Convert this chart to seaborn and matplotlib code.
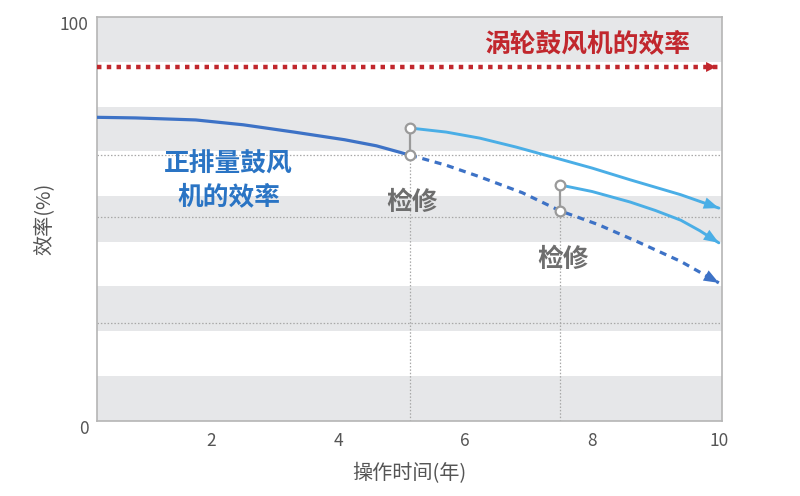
import matplotlib
matplotlib.use("Agg")
import matplotlib.pyplot as plt
import matplotlib.transforms as mtransforms
import seaborn as sns

# * --- Data ---
y_ticks = [0, 100]
x_ticks = [2, 4, 6, 8, 10]

# gray background bands (lower, upper)
band_low = [0.0, 22.2, 44.4, 66.7, 88.9]
band_high = [11.1, 33.3, 55.6, 77.8, 100.0]

# turbo blower efficiency (red dotted)
turbo_x = [0.19, 10.0]
turbo_y = [87.6, 87.6]

# positive displacement blower efficiency (solid, before first maintenance)
pd_x = [0.0, 0.8, 1.75, 2.5, 3.3, 4.1, 4.6, 5.13]
pd_y = [75.2, 75.0, 74.5, 73.3, 71.5, 69.6, 68.1, 65.8]

# without maintenance (dashed)
decay_x = [5.13, 5.7, 6.2, 6.9, 7.5, 8.1, 8.7, 9.4, 10.0]
decay_y = [65.8, 63.3, 60.6, 56.5, 52.0, 48.6, 44.5, 39.5, 34.2]

# after first maintenance
maint1_x = [5.13, 5.7, 6.23, 6.8, 7.38, 8.0, 8.6, 9.4, 10.0]
maint1_y = [72.5, 71.5, 70.0, 67.8, 65.3, 62.6, 59.7, 56.0, 52.7]

# after second maintenance
maint2_x = [7.5, 8.0, 8.6, 9.0, 9.4, 9.7, 10.0]
maint2_y = [58.4, 56.8, 54.2, 52.1, 49.7, 47.1, 44.1]

# reference grid lines
h_guides = [65.8, 50.5, 24.3]
v_guides = [5.13, 7.5]
v_guide_tops = [65.8, 52.0]

DARK_BLUE = "#3d72c6"
LIGHT_BLUE = "#4aaee6"
RED = "#c1272d"
GRAY_TXT = "#6e6e6e"

sns.set_theme(style="white")
plt.rcParams["font.family"] = ["Noto Sans CJK SC", "DejaVu Sans"]

fig = plt.figure(figsize=(8, 4.96), dpi=100)
ax = fig.add_axes([0.121, 0.151, 0.7815, 0.815])

for lo, hi in zip(band_low, band_high):
    ax.axhspan(lo, hi, color="#e6e7e9", lw=0, zorder=0)

for h in h_guides:
    ax.axhline(h, color="#a8a8a8", lw=0.9, ls=(0, (1.2, 1.5)), zorder=1)
for v, top in zip(v_guides, v_guide_tops):
    ax.plot([v, v], [0, top], color="#a8a8a8", lw=0.9, ls=(0, (1.2, 1.5)), zorder=1)

# turbo line
sns.lineplot(x=turbo_x, y=turbo_y, ax=ax, color=RED, lw=3.2, ls=(0, (1.0, 1.2)), zorder=3)
ax.annotate("", xy=(turbo_x[-1], turbo_y[-1]), xytext=(turbo_x[-1] - 0.15, turbo_y[-1]),
            arrowprops=dict(arrowstyle="-|>,head_length=0.6,head_width=0.3", color=RED, lw=0))

sns.lineplot(x=pd_x, y=pd_y, ax=ax, color=DARK_BLUE, lw=2.3, sort=False, zorder=3)
sns.lineplot(x=decay_x, y=decay_y, ax=ax, color=DARK_BLUE, lw=2.3, ls=(0, (2.2, 1.8)),
             sort=False, zorder=3)
sns.lineplot(x=maint1_x, y=maint1_y, ax=ax, color=LIGHT_BLUE, lw=2.1, sort=False, zorder=3)
sns.lineplot(x=maint2_x, y=maint2_y, ax=ax, color=LIGHT_BLUE, lw=2.1, sort=False, zorder=3)

for xs, ys, c in [(decay_x, decay_y, DARK_BLUE), (maint1_x, maint1_y, LIGHT_BLUE),
                  (maint2_x, maint2_y, LIGHT_BLUE)]:
    ax.annotate("", xy=(xs[-1], ys[-1]), xytext=(xs[-2], ys[-2]),
                arrowprops=dict(arrowstyle="-|>,head_length=0.9,head_width=0.35",
                                color=c, lw=0, shrinkA=0, shrinkB=0), zorder=4)

# maintenance jumps
for xs_lo, ys_lo, xs_hi, ys_hi in [(v_guides[0], decay_y[0], maint1_x[0], maint1_y[0]),
                                   (v_guides[1], decay_y[4], maint2_x[0], maint2_y[0])]:
    ax.plot([xs_lo, xs_hi], [ys_lo, ys_hi], color="#9a9a9a", lw=1.6, zorder=5)
    ax.plot([xs_lo, xs_hi], [ys_lo, ys_hi], ls="none", marker="o", ms=7,
            mfc="white", mec="#9a9a9a", mew=1.6, zorder=6)

ax.text(9.54, 93.3, "涡轮鼓风机的效率", color=RED, fontsize=18.5, fontweight="bold",
        ha="right", va="center")
ax.text(2.27, 59.7, "正排量鼓风\n机的效率", color="#2a74c4", fontsize=18.5, fontweight="bold",
        ha="center", va="center", linespacing=1.3)
ax.text(5.16, 54.2, "检修", color=GRAY_TXT, fontsize=18.5, fontweight="bold", ha="center", va="center")
ax.text(7.54, 39.9, "检修", color=GRAY_TXT, fontsize=18.5, fontweight="bold", ha="center", va="center")

ax.set_xlim(0.19, 10.05)
ax.set_ylim(0, 100)
ax.set_xticks(x_ticks)
ax.set_yticks(y_ticks)
ax.tick_params(axis="x", length=0, pad=8, labelsize=12.5, labelcolor="#555555")
ax.tick_params(axis="y", length=0, pad=6, labelsize=12.5, labelcolor="#555555")
offset = mtransforms.ScaledTranslation(0, -6 / 100, fig.dpi_scale_trans)
for lbl in ax.get_yticklabels():
    lbl.set_transform(lbl.get_transform() + offset)
for s in ax.spines.values():
    s.set_color("#b5b5b5")
    s.set_linewidth(1.2)
ax.set_xlabel("操作时间(年)", fontsize=14.5, color="#555555", labelpad=9)
ax.set_ylabel("效率(%)", fontsize=14.5, color="#555555", labelpad=4)

fig.savefig("out.png", dpi=100)
